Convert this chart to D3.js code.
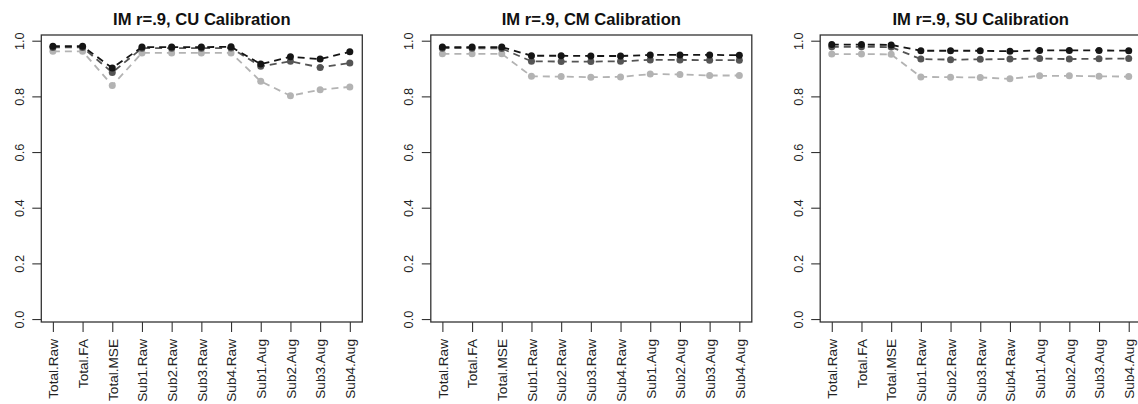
<!DOCTYPE html>
<html>
<head>
<meta charset="utf-8">
<script src="https://cdn.jsdelivr.net/npm/d3@7"></script>
<style>
  html, body { margin: 0; padding: 0; background: #fff; }
  svg { display: block; font-family: "Liberation Sans", Arial, sans-serif; }
</style>
</head>
<body>
<svg id="chart" width="1138" height="404"></svg>
<script>
// Measures on the x axis
const categories = ["Total.Raw", "Total.FA", "Total.MSE", "Sub1.Raw", "Sub2.Raw",
  "Sub3.Raw", "Sub4.Raw", "Sub1.Aug", "Sub2.Aug", "Sub3.Aug", "Sub4.Aug"];

const panelTitles = ["IM r=.9, CU Calibration", "IM r=.9, CM Calibration", "IM r=.9, SU Calibration"];

const yTicks = [0, 0.2, 0.4, 0.6, 0.8, 1.0];

// CU calibration
const cuBlack = [0.980, 0.980, 0.902, 0.977, 0.977, 0.977, 0.978, 0.916, 0.942, 0.934, 0.960];
const cuDark  = [0.976, 0.976, 0.886, 0.973, 0.973, 0.973, 0.974, 0.908, 0.926, 0.904, 0.920];
const cuLight = [0.962, 0.962, 0.839, 0.956, 0.956, 0.956, 0.956, 0.854, 0.802, 0.824, 0.834];

// CM calibration
const cmBlack = [0.977, 0.977, 0.977, 0.946, 0.946, 0.945, 0.945, 0.949, 0.949, 0.949, 0.948];
const cmDark  = [0.973, 0.973, 0.972, 0.926, 0.925, 0.925, 0.926, 0.931, 0.931, 0.930, 0.930];
const cmLight = [0.953, 0.953, 0.953, 0.872, 0.871, 0.869, 0.870, 0.880, 0.879, 0.875, 0.875];

// SU calibration
const suBlack = [0.986, 0.986, 0.985, 0.964, 0.964, 0.964, 0.962, 0.965, 0.965, 0.965, 0.964];
const suDark  = [0.978, 0.978, 0.977, 0.934, 0.932, 0.933, 0.934, 0.936, 0.934, 0.935, 0.936];
const suLight = [0.952, 0.952, 0.951, 0.870, 0.869, 0.868, 0.863, 0.874, 0.874, 0.872, 0.871];

const panels = [
  { title: panelTitles[0], series: [cuLight, cuDark, cuBlack] },
  { title: panelTitles[1], series: [cmLight, cmDark, cmBlack] },
  { title: panelTitles[2], series: [suLight, suDark, suBlack] }
];
const seriesColors = ["#b3b3b3", "#555555", "#151515"];

const svg = d3.select("#chart");
const boxW = 321, boxTop = 35, boxBottom = 322;
const panelLefts = [41.3, 430.8, 820.2];

const fmt = d3.format(".1f");

panels.forEach((p, pi) => {
  const left = panelLefts[pi];
  const g = svg.append("g").attr("transform", `translate(${left},0)`);

  const x = d3.scaleLinear().domain([0.61, 11.42]).range([0, boxW]);
  const y = d3.scaleLinear().domain([-0.0106, 1.0205]).range([boxBottom, boxTop]);

  // title
  g.append("text")
    .attr("x", boxW / 2)
    .attr("y", 25)
    .attr("text-anchor", "middle")
    .attr("font-weight", "bold")
    .attr("font-size", "16.6px")
    .attr("fill", "#111")
    .text(p.title);

  // y axis
  const yAxis = d3.axisLeft(y).tickValues(yTicks).tickFormat(fmt).tickSize(9).tickPadding(0);
  const ya = g.append("g").call(yAxis);
  ya.select(".domain").remove();
  ya.selectAll(".tick line").attr("stroke", "#333").attr("stroke-width", 1.1);
  ya.selectAll(".tick text")
    .attr("x", 0).attr("y", 0).attr("dy", null)
    .attr("transform", "translate(-17.5,0) rotate(-90)")
    .attr("text-anchor", "middle")
    .attr("font-size", "12.8px")
    .attr("font-family", "'Liberation Sans', Arial, sans-serif")
    .attr("fill", "#222");

  // x axis
  const xAxis = d3.axisBottom(x).tickValues(d3.range(1, 12))
    .tickFormat(i => categories[i - 1]).tickSize(10).tickPadding(0);
  const xa = g.append("g").attr("transform", `translate(0,${boxBottom})`).call(xAxis);
  xa.select(".domain").remove();
  xa.selectAll(".tick line").attr("stroke", "#333").attr("stroke-width", 1.1);
  xa.selectAll(".tick text")
    .attr("x", 0).attr("y", 0).attr("dy", null)
    .attr("transform", "translate(4.8,17) rotate(-90)")
    .attr("text-anchor", "end")
    .attr("font-size", "13.6px")
    .attr("font-family", "'Liberation Sans', Arial, sans-serif")
    .attr("fill", "#222");

  // frame
  g.append("rect")
    .attr("x", 0).attr("y", boxTop)
    .attr("width", boxW).attr("height", boxBottom - boxTop)
    .attr("fill", "none").attr("stroke", "#333").attr("stroke-width", 1.3);

  const line = d3.line().x((d, i) => x(i + 1)).y(d => y(d));

  p.series.forEach((vals, si) => {
    g.append("path")
      .datum(vals)
      .attr("d", line)
      .attr("fill", "none")
      .attr("stroke", seriesColors[si])
      .attr("stroke-width", 1.8)
      .attr("stroke-dasharray", "7,5");
    g.append("g").selectAll("circle")
      .data(vals)
      .join("circle")
      .attr("cx", (d, i) => x(i + 1))
      .attr("cy", d => y(d))
      .attr("r", 3.5)
      .attr("fill", seriesColors[si]);
  });
});
</script>
</body>
</html>
